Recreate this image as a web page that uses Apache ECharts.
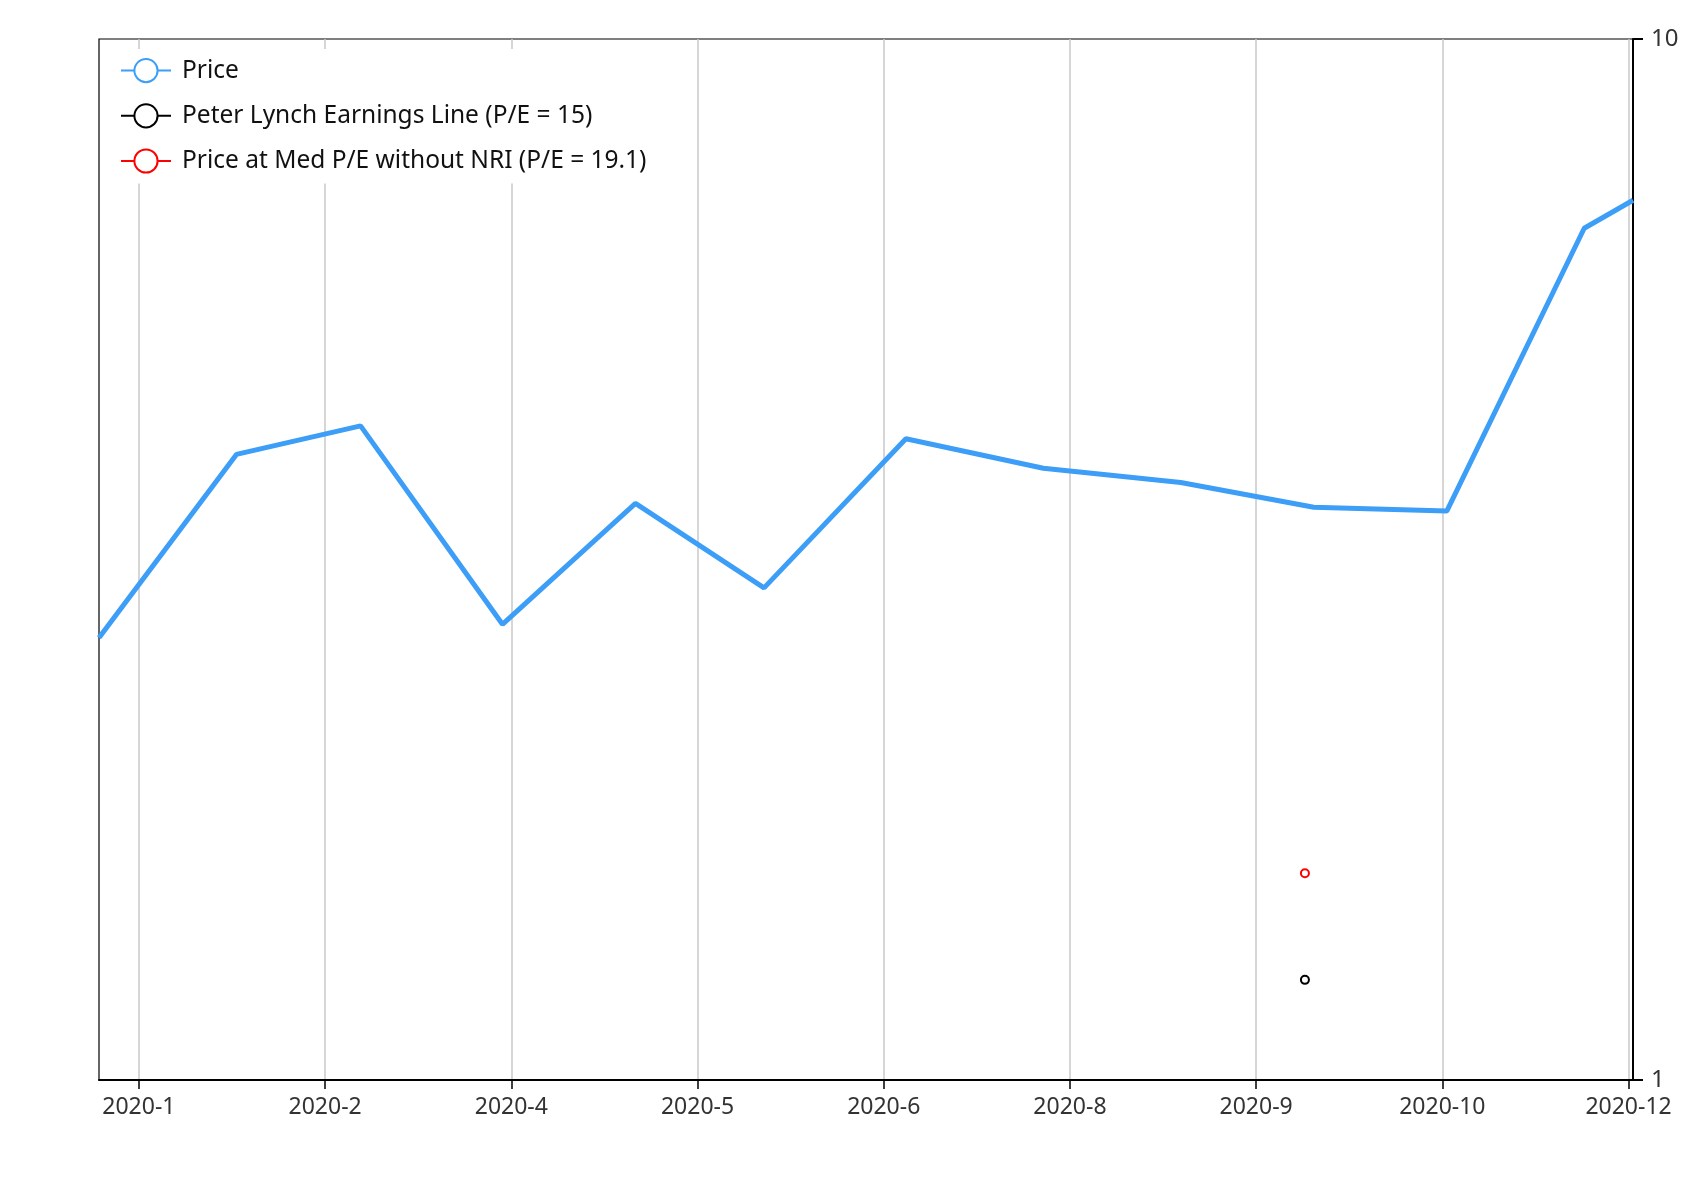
<!DOCTYPE html>
<html>
<head>
<meta charset="utf-8">
<script src="https://cdn.jsdelivr.net/npm/echarts@6/dist/echarts.min.js"></script>
<style>
html,body{margin:0;padding:0;background:#fff;}
#chart{width:1694px;height:1200px;}
</style>
</head>
<body>
<div id="chart"></div>
<script>
// ---- data ----
const priceDates = ['2019-12-31','2020-01-31','2020-02-28','2020-03-31','2020-04-30','2020-05-29','2020-06-30','2020-07-31','2020-08-31','2020-09-30','2020-10-30','2020-11-30','2020-12-11'];
const priceValues = [2.66, 3.99, 4.25, 2.74, 3.58, 2.97, 4.13, 3.87, 3.75, 3.55, 3.52, 6.58, 7.00];
const lynchDates = ['2020-09-28'];
const lynchValues = [1.248];
const medPeDates = ['2020-09-28'];
const medPeValues = [1.58];
const tickDates = ['2020-01-09','2020-02-20','2020-04-02','2020-05-14','2020-06-25','2020-08-06','2020-09-17','2020-10-29','2020-12-10'];
const tickLabels = ['2020-1','2020-2','2020-4','2020-5','2020-6','2020-8','2020-9','2020-10','2020-12'];
const seriesNames = ['Price','Peter Lynch Earnings Line (P/E = 15)','Price at Med P/E without NRI (P/E = 19.1)'];
const xMin = '2019-12-31';
const xMax = '2020-12-11';

// x values are day offsets from xMin
const toDay = s => { const p = s.split('-').map(Number); const b = xMin.split('-').map(Number);
  return Math.round((Date.UTC(p[0], p[1]-1, p[2]) - Date.UTC(b[0], b[1]-1, b[2])) / 86400000); };
const pairs = (d, v) => d.map((x, i) => [toDay(x), v[i]]);
const tickDays = tickDates.map(toDay);

const chart = echarts.init(document.getElementById('chart'), null, {renderer:'canvas'});
const font = "'Segoe UI','Noto Sans',sans-serif";
chart.setOption({
  animation: false,
  backgroundColor: '#fff',
  grid: { left: 99, right: 61, top: 39, bottom: 120, show: true, borderColor: '#000', borderWidth: 1.2, backgroundColor: 'transparent' },
  legend: {
    orient: 'vertical', left: 110, top: 49,
    backgroundColor: '#fff',
    padding: [9, 10, 10, 10],
    itemWidth: 50, itemHeight: 29, itemGap: 20,
    lineStyle: { width: 2 },
    textStyle: { fontFamily: font, fontSize: 24.5, color: '#111', padding: [0, 0, 0, 6] },
    data: seriesNames
  },
  xAxis: {
    type: 'value',
    min: toDay(xMin), max: toDay(xMax),
    axisLine: { show: true, onZero: false, lineStyle: { color: '#000', width: 2 } },
    axisTick: { show: true, length: 9, lineStyle: { color: '#000', width: 1.5 }, customValues: tickDays },
    axisLabel: { customValues: tickDays, margin: 16, fontFamily: font, fontSize: 23, color: '#333',
      formatter: v => { const i = tickDays.indexOf(v); return i >= 0 ? tickLabels[i] : ''; } },
    splitLine: { show: true, lineStyle: { color: '#c8c8c8', width: 1.5 } }
  },
  yAxis: {
    type: 'log', logBase: 10, min: 1, max: 10,
    position: 'right',
    axisLine: { show: true, onZero: false, lineStyle: { color: '#000', width: 2 } },
    axisTick: { show: true, inside: false, length: 10, lineStyle: { color: '#000', width: 2 } },
    axisLabel: { margin: 18, fontFamily: font, fontSize: 24, color: '#333' },
    splitLine: { show: false },
    minorTick: { show: false }
  },
  series: [
    { name: seriesNames[0], type: 'line', data: pairs(priceDates, priceValues),
      symbol: 'emptyCircle', showSymbol: false, color: '#3d9ef7',
      lineStyle: { width: 5, color: '#3d9ef7' }, z: 3 },
    { name: seriesNames[1], type: 'line', data: pairs(lynchDates, lynchValues),
      symbol: 'emptyCircle', symbolSize: 8, showSymbol: true, color: '#000',
      itemStyle: { color: '#000', borderWidth: 2 }, lineStyle: { color: '#000', width: 2 } },
    { name: seriesNames[2], type: 'line', data: pairs(medPeDates, medPeValues),
      symbol: 'emptyCircle', symbolSize: 8, showSymbol: true, color: '#ff0000',
      itemStyle: { color: '#ff0000', borderWidth: 2 }, lineStyle: { color: '#ff0000', width: 2 } }
  ]
});
</script>
</body>
</html>
